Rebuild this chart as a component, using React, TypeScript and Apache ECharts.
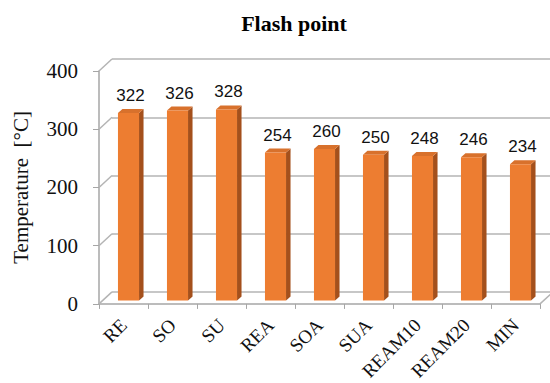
import React, { useEffect, useRef } from "react";
import * as echarts from "echarts";

const categories = ["RE", "SO", "SU", "REA", "SOA", "SUA", "REAM10", "REAM20", "MIN"];
const flashPoint = [322, 326, 328, 254, 260, 250, 248, 246, 234];
const yTicks = [0, 100, 200, 300, 400];

// depth of the back wall relative to the front axes, and of each bar
const WALL_DX = 13;
const WALL_DY = -12;
const BAR_DX = 5;
const BAR_DY = -3.5;
const BAR_DEPTH_X = 4.5;
const BAR_DEPTH_Y = -4;

const GRID_LINE = "#B4B4B4";
const AXIS_LINE = "#A6A6A6";

export default function App() {
  const ref = useRef<HTMLDivElement>(null);

  useEffect(() => {
    if (!ref.current) return;
    const chart = echarts.init(ref.current, undefined, { renderer: "svg" });

    const renderBar = (params: any, api: any) => {
      const v = api.value(1);
      const top = api.coord([api.value(0), v]);
      const base = api.coord([api.value(0), 0]);
      const w = api.size([1, 0])[0] * 0.43;
      const x = top[0] - w / 2 + BAR_DX;
      const yTop = top[1] + BAR_DY;
      const yBase = base[1] + BAR_DY;
      return {
        type: "group",
        children: [
          {
            type: "polygon",
            shape: {
              points: [
                [x + w, yTop],
                [x + w + BAR_DEPTH_X, yTop + BAR_DEPTH_Y],
                [x + w + BAR_DEPTH_X, yBase + BAR_DEPTH_Y],
                [x + w, yBase],
              ],
            },
            style: { fill: "#A4501C" },
          },
          {
            type: "polygon",
            shape: {
              points: [
                [x, yTop],
                [x + BAR_DEPTH_X, yTop + BAR_DEPTH_Y],
                [x + w + BAR_DEPTH_X, yTop + BAR_DEPTH_Y],
                [x + w, yTop],
              ],
            },
            style: { fill: "#D8712C" },
          },
          {
            type: "rect",
            shape: { x, y: yTop, width: w, height: yBase - yTop },
            style: { fill: "#ED7D31" },
          },
          {
            type: "text",
            style: {
              text: String(v),
              x: x + w / 2 + 2,
              y: yTop + BAR_DEPTH_Y - 5,
              align: "center",
              verticalAlign: "bottom",
              font: '17px "Liberation Sans"',
              fill: "#111",
            },
          },
        ],
      };
    };

    const renderConnector = (params: any, api: any) => {
      const p = api.coord([0, api.value(1)]);
      const cs = params.coordSys;
      const children: any[] = [
        {
          type: "line",
          shape: { x1: cs.x, y1: p[1], x2: cs.x + WALL_DX, y2: p[1] + WALL_DY },
          style: { stroke: GRID_LINE, lineWidth: 1.5 },
        },
      ];
      if (api.value(1) === 0) {
        const xr = cs.x + cs.width;
        children.push({
          type: "line",
          shape: { x1: xr, y1: p[1], x2: xr + WALL_DX, y2: p[1] + WALL_DY },
          style: { stroke: GRID_LINE, lineWidth: 1.5 },
        });
      }
      return { type: "group", children };
    };

    chart.setOption({
      animation: false,
      backgroundColor: "#fff",
      title: {
        text: "Flash point",
        left: 289,
        top: 7,
        textAlign: "center",
        textStyle: {
          fontFamily: "Liberation Serif",
          fontSize: 22,
          fontWeight: "bold",
          color: "#000",
        },
      },
      grid: [
        { left: 99, right: 10, top: 71, bottom: 79 },
        { left: 112, right: 0, top: 59, bottom: 91 },
      ],
      xAxis: [
        {
          gridIndex: 0,
          type: "category",
          data: categories,
          axisLine: { lineStyle: { color: AXIS_LINE, width: 1.5 } },
          axisTick: { show: true, length: 5, lineStyle: { color: AXIS_LINE } },
          axisLabel: {
            rotate: 45,
            margin: 18,
            interval: 0,
            fontFamily: "Liberation Serif",
            fontSize: 19,
            color: "#111",
          },
        },
        { gridIndex: 1, type: "category", data: categories, show: false },
      ],
      yAxis: [
        {
          gridIndex: 0,
          type: "value",
          min: 0,
          max: 400,
          interval: 100,
          axisLine: { show: true, lineStyle: { color: AXIS_LINE, width: 1.5 } },
          axisTick: { show: true, length: 6, lineStyle: { color: AXIS_LINE } },
          splitLine: { show: false },
          axisLabel: {
            margin: 21,
            fontFamily: "Liberation Serif",
            fontSize: 21,
            color: "#111",
          },
          name: "Temperature  [°C]",
          nameLocation: "middle",
          nameGap: 68,
          nameTextStyle: {
            fontFamily: "Liberation Serif",
            fontSize: 21,
            color: "#111",
          },
        },
        {
          gridIndex: 1,
          type: "value",
          min: 0,
          max: 400,
          interval: 100,
          axisLine: { show: false },
          axisTick: { show: false },
          axisLabel: { show: false },
          splitLine: { show: true, lineStyle: { color: GRID_LINE, width: 1.5 } },
        },
      ],
      series: [
        {
          type: "custom",
          xAxisIndex: 0,
          yAxisIndex: 0,
          z: 1,
          silent: true,
          data: yTicks.map((v) => [0, v]),
          renderItem: renderConnector,
        },
        {
          type: "custom",
          xAxisIndex: 0,
          yAxisIndex: 0,
          z: 3,
          data: flashPoint.map((v, i) => [i, v]),
          encode: { x: 0, y: 1 },
          renderItem: renderBar,
        },
      ],
    });

    return () => chart.dispose();
  }, []);

  return (
    <div
      ref={ref}
      style={{ position: "fixed", left: 0, top: 0, width: 550, height: 383 }}
    />
  );
}
